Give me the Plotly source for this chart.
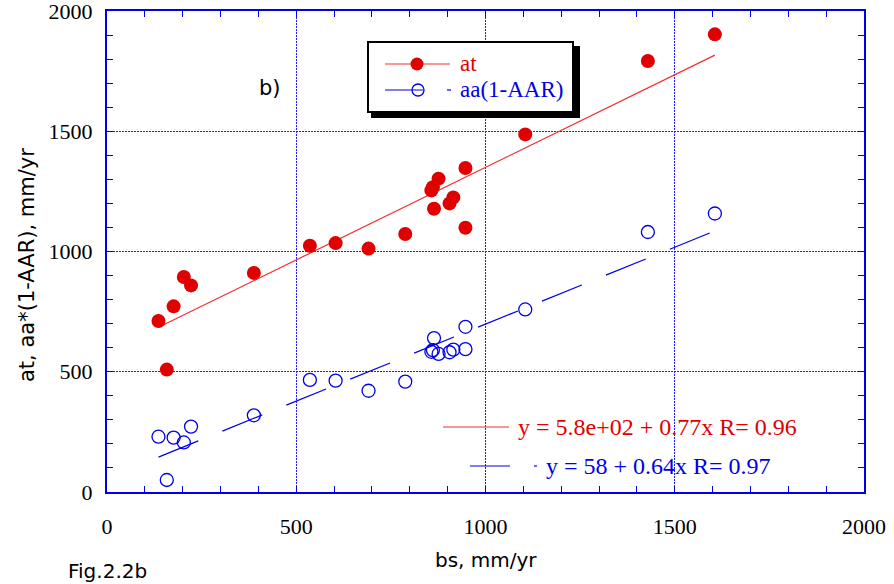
import plotly.graph_objects as go

# ---- data ----
bs = [136, 176, 203, 222, 158, 388, 536, 604, 691, 788, 857, 861, 864, 876,
      905, 915, 947, 947, 1105, 1429, 1606]
at = [711, 772, 894, 859, 509, 911, 1024, 1035, 1012, 1073, 1254, 1267, 1178, 1303,
      1200, 1225, 1347, 1099, 1487, 1792, 1903]
aa = [230, 226, 206, 272, 50, 319, 466, 463, 421, 459, 583, 590, 640, 574,
      581, 592, 687, 594, 759, 1081, 1158]

fit_at = {"a": 580, "b": 0.77, "R": 0.96}
fit_aa = {"a": 58, "b": 0.64, "R": 0.97}

x_ticks = [0, 500, 1000, 1500, 2000]
y_ticks = [0, 500, 1000, 1500, 2000]

RED = "#e00000"
RED_LINE = "#f03030"
BLUE = "#0000e6"
GRID = "#1c1cff"

W, H = 894, 584
L, R, T, B = 107, 30, 11, 92
PW, PH = W - L - R, H - T - B


def px(x):
    return (x - L) / PW


def py(y):
    return (H - B - y) / PH


xmin, xmax = min(bs), max(bs)
fx = [xmin, xmax]

fig = go.Figure()
fig.add_trace(go.Scatter(x=fx, y=[fit_at["a"] + fit_at["b"] * v for v in fx],
                         mode="lines", line=dict(color=RED_LINE, width=1.2),
                         showlegend=False, hoverinfo="skip"))
fig.add_trace(go.Scatter(x=fx, y=[fit_aa["a"] + fit_aa["b"] * v for v in fx],
                         mode="lines", line=dict(color=BLUE, width=1.2, dash="43px,26px"),
                         showlegend=False, hoverinfo="skip"))
fig.add_trace(go.Scatter(x=bs, y=at, mode="markers", name="at",
                         marker=dict(symbol="circle", size=14, color=RED,
                                     line=dict(width=0)),
                         showlegend=False))
fig.add_trace(go.Scatter(x=bs, y=aa, mode="markers", name="aa(1-AAR)",
                         marker=dict(symbol="circle-open", size=13, color=BLUE,
                                     line=dict(width=1.3)),
                         showlegend=False))

axis_common = dict(
    showline=True, linecolor=BLUE, linewidth=2, mirror="allticks",
    showgrid=True, gridcolor=GRID, gridwidth=1, griddash="2px,1px",
    ticks="inside", ticklen=6, tickcolor=BLUE, tickwidth=1,
    zeroline=False, automargin=False, ticklabeloverflow="allow",
    tickfont=dict(family="Liberation Serif", size=22, color="black"),
    minor=dict(dtick=100, ticks="inside", ticklen=6, tickcolor=BLUE, tickwidth=1,
               showgrid=False),
)
fig.update_xaxes(range=[0, 2000], tickvals=x_ticks, ticktext=[str(v) for v in x_ticks],
                 ticklabelstandoff=14, **axis_common)
fig.update_yaxes(range=[0, 2000], tickvals=y_ticks, ticktext=[str(v) for v in y_ticks],
                 ticklabelstandoff=8, **axis_common)

shapes = []
annotations = []

# legend box with shadow
shapes.append(dict(type="rect", xref="paper", yref="paper",
                   x0=px(371), x1=px(580), y0=py(118), y1=py(46),
                   fillcolor="black", line=dict(width=0), layer="above"))
shapes.append(dict(type="rect", xref="paper", yref="paper",
                   x0=px(368), x1=px(573), y0=py(112), y1=py(42),
                   fillcolor="white", line=dict(color="black", width=2), layer="above"))
# legend row 1
shapes.append(dict(type="line", xref="paper", yref="paper",
                   x0=px(385), x1=px(450), y0=py(64), y1=py(64),
                   line=dict(color=RED_LINE, width=1.2), layer="above"))
shapes.append(dict(type="circle", xref="paper", yref="paper",
                   xsizemode="pixel", ysizemode="pixel",
                   xanchor=px(417), yanchor=py(64), x0=-6.5, x1=6.5, y0=-6.5, y1=6.5,
                   fillcolor=RED, line=dict(width=0), layer="above"))
# legend row 2
shapes.append(dict(type="line", xref="paper", yref="paper",
                   x0=px(385), x1=px(423), y0=py(90), y1=py(90),
                   line=dict(color=BLUE, width=1.2), layer="above"))
shapes.append(dict(type="circle", xref="paper", yref="paper",
                   xsizemode="pixel", ysizemode="pixel",
                   xanchor=px(418), yanchor=py(90), x0=-6, x1=6, y0=-6, y1=6,
                   fillcolor="rgba(0,0,0,0)", line=dict(color=BLUE, width=1.3), layer="above"))
shapes.append(dict(type="line", xref="paper", yref="paper",
                   x0=px(447), x1=px(451), y0=py(90), y1=py(90),
                   line=dict(color=BLUE, width=1.2), layer="above"))

annotations.append(dict(text="at", xref="paper", yref="paper", x=px(458), y=py(64),
                        xanchor="left", yanchor="middle", showarrow=False,
                        font=dict(family="Liberation Serif", size=23, color=RED)))
annotations.append(dict(text="aa(1-AAR)", xref="paper", yref="paper", x=px(458), y=py(90),
                        xanchor="left", yanchor="middle", showarrow=False,
                        font=dict(family="Liberation Serif", size=23, color=BLUE)))

# fit equations
shapes.append(dict(type="line", xref="paper", yref="paper",
                   x0=px(443), x1=px(509), y0=py(427), y1=py(427),
                   line=dict(color=RED_LINE, width=1.2)))
shapes.append(dict(type="line", xref="paper", yref="paper",
                   x0=px(470), x1=px(510), y0=py(466), y1=py(466),
                   line=dict(color=BLUE, width=1.2)))
shapes.append(dict(type="line", xref="paper", yref="paper",
                   x0=px(534), x1=px(537), y0=py(466), y1=py(466),
                   line=dict(color=BLUE, width=1.2)))
annotations.append(dict(
    text=f"y = {fit_at['a'] / 100:.1f}e+02 + {fit_at['b']:.2f}x R= {fit_at['R']:.2f}",
    xref="paper", yref="paper", x=px(516), y=py(427), xanchor="left", yanchor="middle",
    showarrow=False, font=dict(family="Liberation Serif", size=24, color=RED)))
annotations.append(dict(
    text=f"y = {fit_aa['a']} + {fit_aa['b']:.2f}x R= {fit_aa['R']:.2f}",
    xref="paper", yref="paper", x=px(544), y=py(466), xanchor="left", yanchor="middle",
    showarrow=False, font=dict(family="Liberation Serif", size=24, color=BLUE)))

# labels
annotations.append(dict(text="b)", xref="paper", yref="paper", x=px(270), y=py(88),
                        xanchor="center", yanchor="middle", showarrow=False,
                        font=dict(family="DejaVu Sans", size=21, color="black")))
annotations.append(dict(text="bs, mm/yr", xref="paper", yref="paper", x=px(486), y=py(560),
                        xanchor="center", yanchor="middle", showarrow=False,
                        font=dict(family="DejaVu Sans", size=20, color="black")))
annotations.append(dict(text="Fig.2.2b", xref="paper", yref="paper", x=px(66), y=py(571),
                        xanchor="left", yanchor="middle", showarrow=False,
                        font=dict(family="DejaVu Sans", size=20, color="black")))
annotations.append(dict(text="at, aa*(1-AAR), mm/yr", xref="paper", yref="paper",
                        x=px(27), y=py(265), xanchor="center", yanchor="middle",
                        textangle=-90, showarrow=False,
                        font=dict(family="DejaVu Sans", size=21, color="black")))

fig.update_layout(
    width=W, height=H,
    margin=dict(l=L, r=R, t=T, b=B, autoexpand=False),
    paper_bgcolor="white", plot_bgcolor="white",
    shapes=shapes, annotations=annotations,
    showlegend=False,
)

fig.write_html("out.html")
